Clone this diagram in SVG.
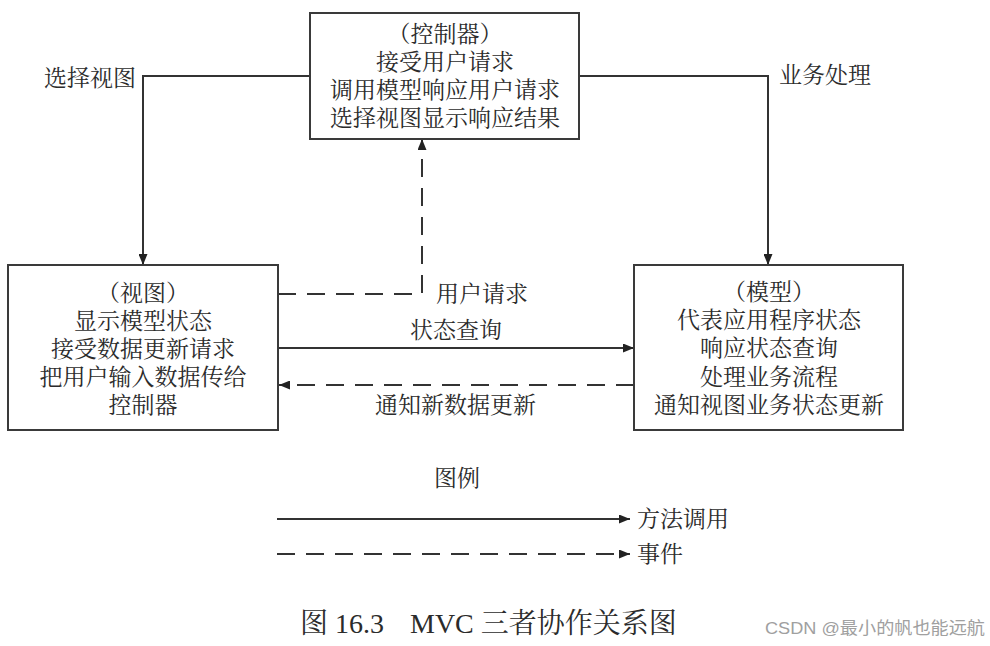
<svg xmlns="http://www.w3.org/2000/svg" width="990" height="646" viewBox="0 0 990 646">
<defs>
<style>
.box{fill:#fff;stroke:#3a3a3a;stroke-width:2}
.t{font-family:"Liberation Serif","Noto Serif CJK SC","Noto Sans CJK SC",serif;font-size:23px;fill:#2b2b2b;dominant-baseline:central}
.c{text-anchor:middle}
.ln{fill:none;stroke:#333;stroke-width:2}
.dash{stroke-dasharray:18 11}
.cap{font-family:"Liberation Serif","Noto Serif CJK SC","Noto Sans CJK SC",serif;font-size:28px;fill:#2b2b2b}
.wm{font-family:"Liberation Sans","Noto Sans CJK SC",sans-serif;font-size:17px;fill:#a0a0a0}
</style>
<marker id="arr" viewBox="0 0 11 9" refX="11" refY="4.5" markerWidth="11" markerHeight="9" markerUnits="userSpaceOnUse" orient="auto">
<path d="M0,0 L11,4.5 L0,9 z" fill="#222"/>
</marker>
</defs>
<rect width="990" height="646" fill="#fff"/>

<g id="connectors">
<polyline class="ln" points="310,76 143,76 143,265" marker-end="url(#arr)"/>
<polyline class="ln" points="579,76 768,76 768,265" marker-end="url(#arr)"/>
<polyline class="ln dash" points="278,294 422,294 422,139" marker-end="url(#arr)"/>
<line class="ln" x1="278" y1="348" x2="634" y2="348" marker-end="url(#arr)"/>
<line class="ln dash" x1="634" y1="385" x2="279" y2="385" marker-end="url(#arr)"/>
<text class="t" x="44" y="78">选择视图</text>
<text class="t" x="779" y="75">业务处理</text>
<text class="t" x="436" y="294">用户请求</text>
<text class="t" x="410" y="330">状态查询</text>
<text class="t" x="375" y="405">通知新数据更新</text>
</g>

<g id="controller">
<rect class="box" x="310" y="13" width="269" height="126"/>
<text class="t c" x="445" y="34">（控制器）</text>
<text class="t c" x="445" y="62">接受用户请求</text>
<text class="t c" x="445" y="90">调用模型响应用户请求</text>
<text class="t c" x="445" y="118">选择视图显示响应结果</text>
</g>

<g id="view">
<rect class="box" x="8" y="265" width="270" height="165"/>
<text class="t c" x="143" y="293">（视图）</text>
<text class="t c" x="143" y="321">显示模型状态</text>
<text class="t c" x="143" y="349">接受数据更新请求</text>
<text class="t c" x="143" y="377">把用户输入数据传给</text>
<text class="t c" x="143" y="405">控制器</text>
</g>

<g id="model">
<rect class="box" x="634" y="265" width="269" height="165"/>
<text class="t c" x="769" y="292">（模型）</text>
<text class="t c" x="769" y="320">代表应用程序状态</text>
<text class="t c" x="769" y="348">响应状态查询</text>
<text class="t c" x="769" y="377">处理业务流程</text>
<text class="t c" x="769" y="405">通知视图业务状态更新</text>
</g>

<g id="legend">
<text class="t c" x="457" y="478">图例</text>
<line class="ln" x1="277" y1="519" x2="630" y2="519" marker-end="url(#arr)"/>
<text class="t" x="637" y="519">方法调用</text>
<line class="ln dash" x1="277" y1="554" x2="630" y2="554" marker-end="url(#arr)"/>
<text class="t" x="637" y="554">事件</text>
</g>

<g id="caption">
<text class="cap" x="300" y="633">图 <tspan>16.3</tspan><tspan x="410">MVC 三者协作关系图</tspan></text>
<text class="wm" x="765" y="634" textLength="220" lengthAdjust="spacingAndGlyphs">CSDN @最小的帆也能远航</text>
</g>
</svg>
